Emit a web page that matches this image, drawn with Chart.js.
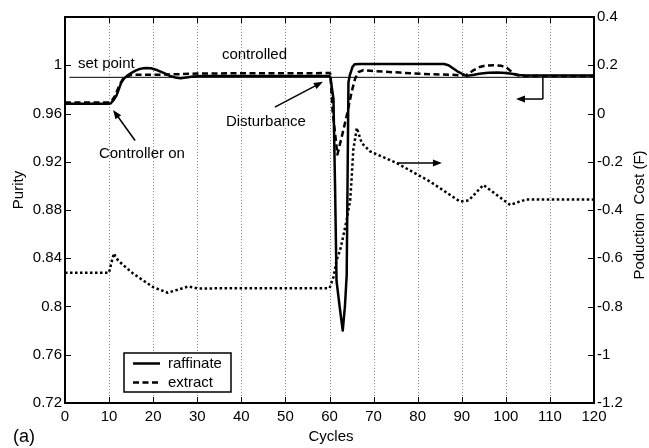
<!DOCTYPE html>
<html><head><meta charset="utf-8">
<script src="https://cdn.jsdelivr.net/npm/chart.js@4"></script>
<style>html,body{margin:0;padding:0;background:#fff}canvas{display:block}</style>
</head><body>
<canvas id="c" width="649" height="448"></canvas>
<script>
// ---- data ----
const raffinateCycles = [0, 10, 10.4, 11, 11.7, 12.3, 12.8, 13.4, 14, 15, 16, 17, 18.2, 19.5, 21, 22.5, 23.8, 25, 26.2, 27.5, 29, 31, 60, 60.2, 60.9, 61.25, 61.6, 62.3, 63, 63.5, 63.9, 64.3, 64.6, 65.2, 65.7, 67, 86, 87, 88, 89, 90, 91.1, 92.5, 94, 96, 98, 100, 101.7, 103, 104.5, 120];
const raffinatePurity = [0.968, 0.968, 0.9685, 0.971, 0.975, 0.981, 0.986, 0.989, 0.991, 0.9935, 0.9955, 0.997, 0.9978, 0.9975, 0.9958, 0.9935, 0.9912, 0.9898, 0.9893, 0.9899, 0.9907, 0.991, 0.991, 0.990, 0.972, 0.902, 0.821, 0.800, 0.780, 0.800, 0.826, 0.986, 0.9916, 0.9985, 1.0008, 1.001, 1.001, 1.000, 0.9975, 0.995, 0.993, 0.9912, 0.992, 0.993, 0.9937, 0.9939, 0.9935, 0.9928, 0.992, 0.9916, 0.9915];
const extractCycles = [0, 10, 10.5, 11.4, 12.3, 13.2, 14.7, 16, 20, 25, 30, 60, 60.2, 60.7, 61.25, 61.8, 62.8, 63.9, 65.0, 65.8, 66.6, 67.7, 70, 76, 82.8, 87.3, 89.6, 91.1, 92.5, 94.1, 95.5, 97.2, 99, 100.2, 101, 101.7, 103.2, 120];
const extractPurity = [0.9692, 0.9692, 0.970, 0.975, 0.983, 0.989, 0.9916, 0.9922, 0.992, 0.9925, 0.9932, 0.9935, 0.993, 0.962, 0.944, 0.926, 0.941, 0.958, 0.9776, 0.9888, 0.9944, 0.996, 0.9952, 0.9939, 0.9925, 0.9922, 0.9916, 0.992, 0.9955, 0.9986, 0.9998, 1.0, 0.9995, 0.998, 0.9955, 0.993, 0.991, 0.9912];
const costCycles = [0, 10, 10.5, 11.1, 11.6, 13, 15.5, 18, 20, 23.3, 26, 28, 30, 60, 60.1, 60.9, 61.6, 62.4, 63.1, 63.9, 64.7, 65.0, 65.4, 66.2, 67.3, 69.2, 75.2, 82.8, 89.6, 91.6, 94.9, 101, 103, 104.7, 120];
const costValues = [-0.66, -0.66, -0.62, -0.58, -0.60, -0.625, -0.664, -0.695, -0.72, -0.743, -0.728, -0.717, -0.725, -0.724, -0.72, -0.678, -0.608, -0.567, -0.511, -0.44, -0.358, -0.275, -0.15, -0.06, -0.122, -0.157, -0.205, -0.282, -0.365, -0.36, -0.296, -0.379, -0.366, -0.356, -0.357];
const setPointCycles = [1, 120];
const setPointPurity = [0.99, 0.99];
const cycleTicks = [0, 10, 20, 30, 40, 50, 60, 70, 80, 90, 100, 110, 120];
const purityTicks = [0.72, 0.76, 0.8, 0.84, 0.88, 0.92, 0.96, 1];
const costTicks = [0.4, 0.2, 0, -0.2, -0.4, -0.6, -0.8, -1, -1.2];
const seriesNames = ['raffinate', 'extract'];

const FONT = "'Liberation Sans', Arial, Helvetica, sans-serif";
const pts = (xs, ys) => xs.map((x, i) => ({ x: x, y: ys[i] }));
const fmt = v => String(+(+v).toFixed(2));

function arrow(ctx, x1, y1, x2, y2) {
  const a = Math.atan2(y2 - y1, x2 - x1), L = 9, W = 3.5;
  ctx.beginPath(); ctx.moveTo(x1, y1); ctx.lineTo(x2 - L * 0.6 * Math.cos(a), y2 - L * 0.6 * Math.sin(a)); ctx.stroke();
  ctx.beginPath();
  ctx.moveTo(x2, y2);
  ctx.lineTo(x2 - L * Math.cos(a) + W * Math.sin(a), y2 - L * Math.sin(a) - W * Math.cos(a));
  ctx.lineTo(x2 - L * Math.cos(a) - W * Math.sin(a), y2 - L * Math.sin(a) + W * Math.cos(a));
  ctx.closePath(); ctx.fill();
}

const decor = {
  id: 'decor',
  beforeDatasetsDraw(chart) {
    const { ctx, chartArea: a, scales: { x } } = chart;
    ctx.save();
    ctx.strokeStyle = '#8a8a8a'; ctx.lineWidth = 1; ctx.setLineDash([1, 2]);
    cycleTicks.forEach(v => {
      if (v === 0 || v === 120) return;
      const px = Math.round(x.getPixelForValue(v)) + 0.5;
      ctx.beginPath(); ctx.moveTo(px, a.top); ctx.lineTo(px, a.bottom); ctx.stroke();
    });
    ctx.restore();
  },
  afterDatasetsDraw(chart) {
    const { ctx, chartArea: a, scales: { x, y, y1 } } = chart;
    ctx.save();
    // frame
    ctx.strokeStyle = '#000'; ctx.lineWidth = 2; ctx.setLineDash([]);
    ctx.strokeRect(a.left, a.top, a.right - a.left, a.bottom - a.top);
    // inward ticks
    ctx.lineWidth = 1;
    ctx.beginPath();
    purityTicks.forEach(v => { const p = Math.round(y.getPixelForValue(v)) + 0.5; ctx.moveTo(a.left, p); ctx.lineTo(a.left + 6, p); });
    costTicks.forEach(v => { const p = Math.round(y1.getPixelForValue(v)) + 0.5; ctx.moveTo(a.right, p); ctx.lineTo(a.right - 6, p); });
    cycleTicks.forEach(v => { const p = Math.round(x.getPixelForValue(v)) + 0.5; ctx.moveTo(p, a.bottom); ctx.lineTo(p, a.bottom - 6); ctx.moveTo(p, a.top); ctx.lineTo(p, a.top + 6); });
    ctx.stroke();

    // annotations (data coordinates)
    const X = v => x.getPixelForValue(v), Y = v => y.getPixelForValue(v);
    ctx.fillStyle = '#000'; ctx.font = '15px ' + FONT; ctx.textBaseline = 'middle'; ctx.textAlign = 'left';
    ctx.fillText('set point', X(2.95), Y(1.0014));
    ctx.fillText('controlled', X(35.6), Y(1.0084));
    ctx.fillText('Disturbance', X(36.5), Y(0.953));
    ctx.fillText('Controller on', X(7.7), Y(0.9266));
    ctx.lineWidth = 1.5;
    arrow(ctx, X(15.9), Y(0.9376), X(10.9), Y(0.963));
    arrow(ctx, X(47.6), Y(0.9653), X(58.5), Y(0.9863));
    arrow(ctx, X(75.3), Y(0.919), X(85.5), Y(0.919));
    ctx.beginPath(); ctx.moveTo(X(108.4), Y(0.9905)); ctx.lineTo(X(108.4), Y(0.972)); ctx.stroke();
    arrow(ctx, X(108.4), Y(0.972), X(102.3), Y(0.972));

    // legend
    const lx = 124, ly = 353, lw = 107, lh = 39;
    ctx.fillStyle = '#fff'; ctx.fillRect(lx, ly, lw, lh);
    ctx.strokeStyle = '#000'; ctx.lineWidth = 1.5; ctx.strokeRect(lx, ly, lw, lh);
    chart.data.datasets.slice(0, 2).forEach((ds, i) => {
      const yy = ly + 10.5 + i * 19;
      ctx.lineWidth = ds.borderWidth; ctx.setLineDash(ds.borderDash || []);
      ctx.beginPath(); ctx.moveTo(lx + 9, yy); ctx.lineTo(lx + 36, yy); ctx.stroke();
      ctx.setLineDash([]);
      ctx.fillStyle = '#000'; ctx.fillText(seriesNames[i], lx + 44, yy);
    });

    // axis titles
    ctx.textAlign = 'center';
    ctx.fillText('Cycles', 331, 437);
    ctx.save(); ctx.translate(19, 190); ctx.rotate(-Math.PI / 2); ctx.fillText('Purity', 0, 0); ctx.restore();
    ctx.save(); ctx.translate(640, 215); ctx.rotate(-Math.PI / 2); ctx.fillText('Poduction  Cost (F)', 0, 0); ctx.restore();
    ctx.textAlign = 'left'; ctx.font = '18px ' + FONT;
    ctx.fillText('(a)', 13, 437);
    ctx.restore();
  }
};

const tickFont = { family: FONT, size: 15 };
const lineBase = { borderColor: '#000', borderWidth: 2.5, pointRadius: 0, tension: 0, fill: false, borderJoinStyle: 'round' };
new Chart(document.getElementById('c'), {
  type: 'line',
  data: {
    datasets: [
      Object.assign({ label: seriesNames[0], data: pts(raffinateCycles, raffinatePurity), yAxisID: 'y' }, lineBase),
      Object.assign({ label: seriesNames[1], data: pts(extractCycles, extractPurity), yAxisID: 'y', borderDash: [6, 3.5] }, lineBase),
      Object.assign({ label: 'cost', data: pts(costCycles, costValues), yAxisID: 'y1', borderDash: [2.5, 2.5] }, lineBase),
      Object.assign({}, lineBase, { label: 'set point', data: pts(setPointCycles, setPointPurity), yAxisID: 'y', borderWidth: 1 })
    ]
  },
  options: {
    responsive: false, animation: false, devicePixelRatio: 1,
    layout: { padding: { top: 17, left: 0, right: 0, bottom: 0 } },
    plugins: { legend: { display: false }, tooltip: { enabled: false } },
    scales: {
      x: {
        type: 'linear', position: 'bottom', min: 0, max: 120,
        afterFit(s) { s.height = 45; },
        afterBuildTicks(s) { s.ticks = cycleTicks.map(v => ({ value: v })); },
        grid: { display: false, drawTicks: false }, border: { display: false },
        ticks: { color: '#000', font: tickFont, padding: 5, maxRotation: 0, autoSkip: false, callback: v => fmt(v) }
      },
      y: {
        type: 'linear', position: 'left', min: 0.72, max: 1.04,
        afterFit(s) { s.width = 65; },
        afterBuildTicks(s) { s.ticks = purityTicks.map(v => ({ value: v })); },
        grid: { display: false, drawTicks: false }, border: { display: false },
        ticks: { color: '#000', font: tickFont, padding: 3, autoSkip: false, callback: v => fmt(v) }
      },
      y1: {
        type: 'linear', position: 'right', min: -1.2, max: 0.4,
        afterFit(s) { s.width = 55; },
        afterBuildTicks(s) { s.ticks = costTicks.map(v => ({ value: v })); },
        grid: { display: false, drawTicks: false }, border: { display: false },
        ticks: { color: '#000', font: tickFont, padding: 3, autoSkip: false, callback: v => fmt(v) }
      }
    }
  },
  plugins: [decor]
});
</script>
</body></html>
